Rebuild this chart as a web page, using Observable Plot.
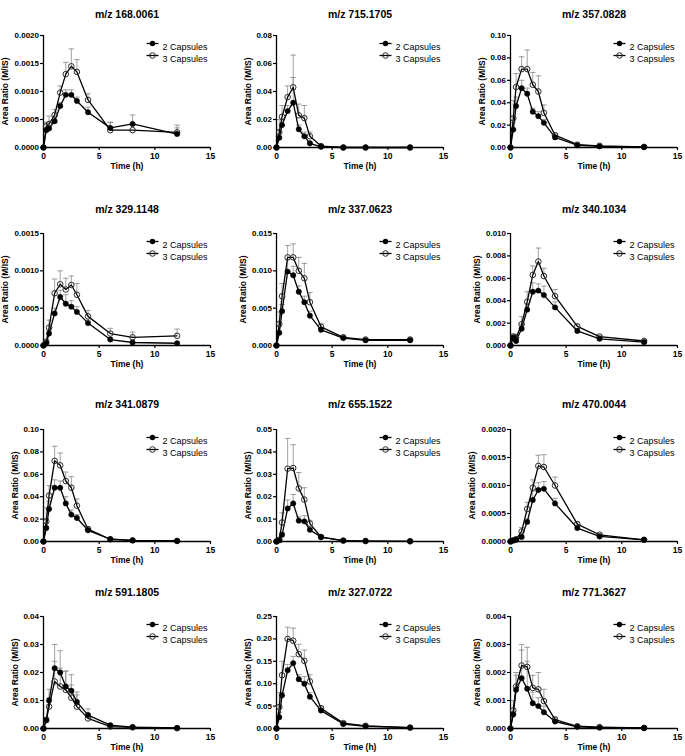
<!DOCTYPE html>
<html><head><meta charset="utf-8">
<script src="https://cdn.jsdelivr.net/npm/d3@7"></script>
<script src="https://cdn.jsdelivr.net/npm/@observablehq/plot@0.6"></script>
<style>
body{margin:0;background:#fff;}
#chart{position:relative;width:685px;height:756px;overflow:hidden;font-family:"Liberation Sans",Arial,sans-serif;}
#chart svg{position:absolute;overflow:visible;}
</style></head><body><div id="chart"></div>
<script>
const times = [0,0.25,0.5,1,1.5,2,2.5,3,4,6,8,12];
const xTicks = [0,5,10,15];
const seriesNames = ["2 Capsules","3 Capsules"];
const titles = ["m/z 168.0061","m/z 715.1705","m/z 357.0828","m/z 329.1148","m/z 337.0623","m/z 340.1034",
  "m/z 341.0879","m/z 655.1522","m/z 470.0044","m/z 591.1805","m/z 327.0722","m/z 771.3627"];
const yTicks = [
  [0,0.0005,0.001,0.0015,0.002],
  [0,0.02,0.04,0.06,0.08],
  [0,0.02,0.04,0.06,0.08,0.10],
  [0,0.0005,0.001,0.0015],
  [0,0.005,0.010,0.015],
  [0,0.002,0.004,0.006,0.008,0.010],
  [0,0.02,0.04,0.06,0.08,0.10],
  [0,0.01,0.02,0.03,0.04,0.05],
  [0,0.0005,0.001,0.0015,0.002],
  [0,0.01,0.02,0.03,0.04],
  [0,0.05,0.10,0.15,0.20,0.25],
  [0,0.001,0.002,0.003,0.004]
];
const yDecimals = [4,2,2,4,3,3,2,2,4,2,2,3];

const mean2 = [
  [0,0.00031,0.00034,0.00047,0.00074,0.00094,0.00094,0.00083,0.00063,0.00035,0.00042,0.00024],
  [0,0.007,0.016,0.026,0.032,0.013,0.008,0.003,0.0005,0,0,0],
  [0,0.016,0.037,0.053,0.048,0.032,0.028,0.022,0.009,0.002,0.001,0.0005],
  [0,0.00003,0.00016,0.00043,0.00065,0.00056,0.00052,0.00045,0.0003,0.00008,0.00004,0.00003],
  [0,0.0017,0.0046,0.0099,0.0094,0.0072,0.0058,0.0040,0.0021,0.0010,0.0007,0.0007],
  [0,0.0007,0.0004,0.0015,0.0032,0.0048,0.0049,0.0045,0.0034,0.0013,0.0006,0.0003],
  [0,0.012,0.029,0.048,0.048,0.034,0.024,0.021,0.010,0.002,0.001,0.0005],
  [0,0.0005,0.003,0.0147,0.017,0.0093,0.009,0.0052,0.002,0.0004,0.0002,0.0001],
  [0,0.00002,0.00003,0.00008,0.00035,0.00074,0.00092,0.00094,0.00068,0.00024,0.00009,0.00003],
  [0,0.003,0.010,0.0215,0.020,0.015,0.0135,0.0095,0.0048,0.0012,0.0005,0.0002],
  [0,0.025,0.074,0.130,0.146,0.110,0.100,0.071,0.040,0.010,0.005,0.002],
  [0,0.0005,0.00138,0.0018,0.00142,0.0009,0.0008,0.00058,0.00025,0.00006,0.00003,0.00002]
];
const upper2 = [
  [0,0.00035,0.0004,0.00055,0.0008,0.00103,0.00103,0.0009,0.00072,0.00045,0.00058,0.00035],
  [0,0.012,0.02,0.03,0.05,0.016,0.011,0.004,0.001,0,0,0],
  [0,0.022,0.045,0.06,0.053,0.035,0.032,0.025,0.011,0.0025,0.0012,0.0006],
  [0,0.00004,0.0002,0.0005,0.00074,0.00068,0.0006,0.00052,0.00034,0.0001,0.00005,0.00003],
  [0,0.0025,0.0055,0.0115,0.0106,0.008,0.0066,0.0046,0.0024,0.0012,0.0008,0.0008],
  [0,0.0009,0.0006,0.0019,0.0037,0.0056,0.0055,0.0053,0.0039,0.0015,0.0007,0.0004],
  [0,0.02,0.036,0.055,0.054,0.04,0.028,0.024,0.011,0.0025,0.0012,0.0006],
  [0,0.0007,0.004,0.0185,0.021,0.011,0.0115,0.006,0.0024,0.0005,0.0003,0.0001],
  [0,0.00003,0.00004,0.0001,0.0004,0.0009,0.00105,0.00107,0.00077,0.00028,0.0001,0.00004],
  [0,0.004,0.014,0.030,0.0278,0.0205,0.0192,0.013,0.007,0.0015,0.0006,0.0003],
  [0,0.035,0.08,0.143,0.161,0.12,0.116,0.08,0.045,0.012,0.006,0.003],
  [0,0.0006,0.0019,0.0028,0.0024,0.0013,0.0011,0.0008,0.0003,0.00008,0.00004,0.00003]
];
const mean3 = [
  [0,0.00038,0.00042,0.00058,0.00098,0.00131,0.00145,0.00135,0.00085,0.00031,0.00031,0.00027],
  [0,0.011,0.022,0.036,0.043,0.023,0.021,0.008,0.001,0,0,0],
  [0,0.026,0.054,0.070,0.070,0.056,0.050,0.031,0.011,0.0025,0.0015,0.0005],
  [0,0.00005,0.00024,0.0007,0.00082,0.00075,0.00081,0.00068,0.00039,0.00016,0.00011,0.00013],
  [0,0.0029,0.0066,0.0118,0.0118,0.0100,0.0090,0.0058,0.0025,0.0011,0.0008,0.0008],
  [0,0.0008,0.0007,0.0019,0.0039,0.0063,0.0075,0.0062,0.0044,0.0017,0.0008,0.0004],
  [0,0.018,0.041,0.072,0.068,0.054,0.048,0.032,0.011,0.002,0.001,0.0005],
  [0,0.0008,0.0085,0.0325,0.0328,0.0237,0.0187,0.008,0.002,0.0004,0.0002,0.0001],
  [0,0.00002,0.00004,0.00018,0.00058,0.00096,0.00135,0.00133,0.001,0.00031,0.00012,0.00003],
  [0,0.003,0.0078,0.0168,0.015,0.0138,0.011,0.0078,0.0036,0.0007,0.0004,0.0001],
  [0,0.048,0.119,0.200,0.196,0.166,0.151,0.105,0.045,0.012,0.006,0.002],
  [0,0.00065,0.0015,0.00225,0.0022,0.00145,0.0014,0.00098,0.00032,0.00008,0.00005,0.00002]
];
const upper3 = [
  [0,0.00045,0.00056,0.00068,0.0011,0.00152,0.00176,0.00157,0.00096,0.00045,0.00031,0.0004],
  [0,0.02,0.03,0.044,0.066,0.031,0.03,0.011,0.0015,0,0,0],
  [0,0.042,0.066,0.081,0.087,0.067,0.064,0.038,0.012,0.003,0.0018,0.0006],
  [0,0.00007,0.00034,0.00089,0.001,0.0009,0.00093,0.00083,0.00047,0.00023,0.00018,0.00022],
  [0,0.0045,0.0083,0.0134,0.0136,0.0118,0.011,0.0071,0.0029,0.0012,0.0009,0.0009],
  [0,0.001,0.001,0.0026,0.0048,0.0071,0.0087,0.0069,0.005,0.0019,0.0009,0.0005],
  [0,0.03,0.05,0.085,0.079,0.062,0.058,0.038,0.013,0.0025,0.0012,0.0006],
  [0,0.0012,0.0128,0.046,0.0432,0.0308,0.024,0.0095,0.0025,0.0005,0.0003,0.0001],
  [0,0.00003,0.00006,0.00025,0.0007,0.0011,0.00154,0.00155,0.00115,0.00035,0.00014,0.00004],
  [0,0.0038,0.011,0.024,0.0215,0.0205,0.0155,0.012,0.0048,0.001,0.0005,0.0002],
  [0,0.08,0.15,0.226,0.224,0.188,0.175,0.12,0.05,0.014,0.007,0.003],
  [0,0.001,0.002,0.003,0.0029,0.0019,0.002,0.0014,0.0004,0.0001,0.00006,0.00003]
];

// layout
const colLeft = [43, 276, 510];
const rowTop = [35, 233, 429, 616];
const titleOff = [25, 28, 29, 28];
const FW = 167, FH = 112, ML = 43, MR = 20, MT = 35, MB = 28;
const FONT = "'Liberation Sans', Arial, sans-serif";

const hline = (w) => ({draw(ctx){ ctx.moveTo(-w, 0); ctx.lineTo(w, 0); }});

const chart = document.getElementById("chart");

titles.forEach((title, i) => {
  const r = Math.floor(i / 3), c = i % 3;
  const rows = (m, u) => times.map((t, k) => ({t, m: m[i][k], u: u[i][k]}));
  const d2 = rows(mean2, upper2), d3 = rows(mean3, upper3);
  const e2 = d2.filter(d => d.u > d.m), e3 = d3.filter(d => d.u > d.m);
  const dec = yDecimals[i];
  const labelChars = yTicks[i][yTicks[i].length - 1].toFixed(dec).length;
  const errStyle = {stroke: "#8a8a8a", strokeWidth: 0.8};
  const openDot = {fill: "none", stroke: "#2a2a2a", strokeWidth: 1};
  const svg = Plot.plot({
    width: ML + FW + MR, height: MT + FH + MB,
    marginLeft: ML, marginRight: MR, marginTop: MT, marginBottom: MB,
    x: {domain: [0, 15]},
    y: {domain: [0, yTicks[i][yTicks[i].length - 1]]},
    style: {fontFamily: FONT, color: "black", background: "transparent", overflow: "visible"},
    marks: [
      Plot.ruleX(e3, {x: "t", y1: "m", y2: "u", ...errStyle}),
      Plot.dot(e3, {x: "t", y: "u", symbol: hline(2.8), fill: "none", ...errStyle}),
      Plot.ruleX(e2, {x: "t", y1: "m", y2: "u", ...errStyle}),
      Plot.dot(e2, {x: "t", y: "u", symbol: hline(2.8), fill: "none", ...errStyle}),
      Plot.axisX({ticks: xTicks, tickSize: 3, tickPadding: 2, fontSize: 8.5, fontWeight: "bold", label: null, strokeWidth: 1.2}),
      Plot.axisY({ticks: yTicks[i], tickFormat: d => d.toFixed(dec), tickSize: 3, tickPadding: 1.5, fontSize: 8, fontWeight: "bold", label: null, strokeWidth: 1.2}),
      Plot.ruleY([0], {stroke: "black", strokeWidth: 1.3}),
      Plot.ruleX([0], {stroke: "black", strokeWidth: 1.3}),
      Plot.line(d3, {x: "t", y: "m", stroke: "black", strokeWidth: 1.3}),
      Plot.line(d2, {x: "t", y: "m", stroke: "black", strokeWidth: 1.3}),
      Plot.dot(d3, {x: "t", y: "m", r: 2.8, ...openDot}),
      Plot.dot(d2, {x: "t", y: "m", r: 2.7, fill: "black", stroke: "black", strokeWidth: 0.4}),
      // legend
      Plot.dot([0], {frameAnchor: "top-left", dx: 109, dy: 8, symbol: hline(6), fill: "none", stroke: "black", strokeWidth: 1.3}),
      Plot.dot([0], {frameAnchor: "top-left", dx: 109, dy: 8, r: 2.7, fill: "black"}),
      Plot.text([seriesNames[0]], {frameAnchor: "top-left", dx: 119, dy: 8, textAnchor: "start", fontSize: 9}),
      Plot.dot([0], {frameAnchor: "top-left", dx: 109, dy: 20, symbol: hline(6), fill: "none", stroke: "black", strokeWidth: 1.3}),
      Plot.dot([0], {frameAnchor: "top-left", dx: 109, dy: 20, r: 2.8, ...openDot}),
      Plot.text([seriesNames[1]], {frameAnchor: "top-left", dx: 119, dy: 20, textAnchor: "start", fontSize: 9}),
      // titles and labels
      Plot.text([title], {frameAnchor: "top", dy: -titleOff[r], fontSize: 10.5, fontWeight: "bold", textAnchor: "middle"}),
      Plot.text(["Time (h)"], {frameAnchor: "bottom", dy: 21, fontSize: 8.5, fontWeight: "bold", textAnchor: "middle"}),
      Plot.text(["Area Ratio (M/IS)"], {frameAnchor: "left", dx: -(8 + 5 * labelChars), rotate: -90, fontSize: 8.5, fontWeight: "bold", textAnchor: "middle"})
    ]
  });
  svg.style.left = (colLeft[c] - ML) + "px";
  svg.style.top = (rowTop[r] - MT) + "px";
  chart.appendChild(svg);
});
</script>
</body></html>
